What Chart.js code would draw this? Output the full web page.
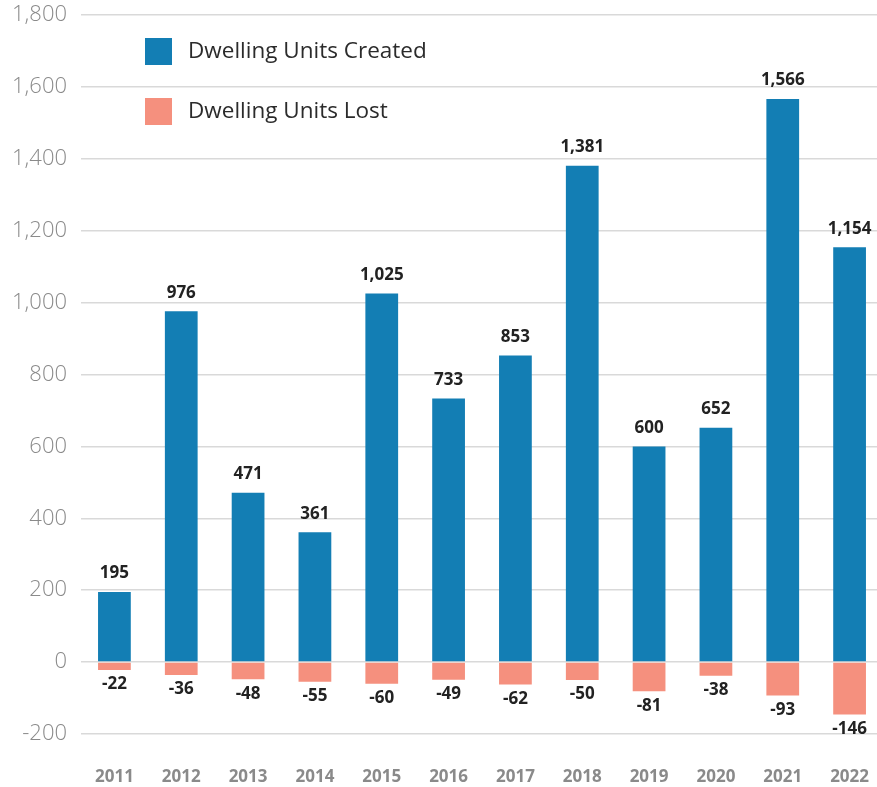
<!DOCTYPE html>
<html>
<head>
<meta charset="utf-8">
<script src="https://cdn.jsdelivr.net/npm/chart.js@4/dist/chart.umd.min.js"></script>
<style>
  html, body { margin: 0; padding: 0; background: #fff; overflow: hidden; }
  #wrap { width: 883px; height: 787px; }
</style>
</head>
<body>
<div id="wrap"><canvas id="units" width="883" height="787"></canvas></div>
<script>
const years = ['2011', '2012', '2013', '2014', '2015', '2016', '2017', '2018', '2019', '2020', '2021', '2022'];
const unitsCreated = [195, 976, 471, 361, 1025, 733, 853, 1381, 600, 652, 1566, 1154];
const unitsLost = [-22, -36, -48, -55, -60, -49, -62, -50, -81, -38, -93, -146];
const yTicks = [-200, 0, 200, 400, 600, 800, 1000, 1200, 1400, 1600, 1800];

const FONT = '"Open Sans", "Noto Sans", sans-serif';

// value labels above the created bars, below the lost bars
const valueLabels = {
  id: 'valueLabels',
  afterDatasetsDraw(chart) {
    const ctx = chart.ctx;
    ctx.save();
    ctx.font = 'bold 17px ' + FONT;
    ctx.fillStyle = '#222';
    ctx.textAlign = 'center';
    chart.data.datasets.forEach((ds, i) => {
      chart.getDatasetMeta(i).data.forEach((bar, j) => {
        const v = ds.data[j];
        const txt = v.toLocaleString('en-US');
        if (v >= 0) {
          ctx.textBaseline = 'bottom';
          ctx.fillText(txt, bar.x, bar.y - 10);
        } else {
          ctx.textBaseline = 'top';
          ctx.fillText(txt, bar.x, bar.y + 6);
        }
      });
    });
    ctx.restore();
  }
};

// legend sits inside the plot, top left
const insideLegend = {
  id: 'insideLegend',
  afterDraw(chart) {
    const ctx = chart.ctx;
    ctx.save();
    ctx.font = '22.5px ' + FONT;
    ctx.textBaseline = 'middle';
    ctx.textAlign = 'left';
    chart.data.datasets.forEach((ds, i) => {
      const y = 38 + i * 60;
      ctx.fillStyle = ds.backgroundColor;
      ctx.fillRect(145, y, 27, 27);
      ctx.fillStyle = '#2b2b2b';
      ctx.fillText(ds.label, 188, y + 14);
    });
    ctx.restore();
  }
};

new Chart(document.getElementById('units'), {
  type: 'bar',
  data: {
    labels: years,
    datasets: [
      { label: 'Dwelling Units Created', data: unitsCreated, backgroundColor: '#137eb4' },
      { label: 'Dwelling Units Lost', data: unitsLost, backgroundColor: '#f5907e' }
    ]
  },
  options: {
    responsive: false,
    animation: false,
    layout: { padding: { top: 15, right: 0, bottom: 0, left: 0 } },
    datasets: { bar: { barPercentage: 0.49, categoryPercentage: 1 } },
    plugins: {
      legend: { display: false },
      tooltip: { enabled: false }
    },
    scales: {
      x: {
        stacked: true,
        grid: { display: false, drawTicks: false },
        border: { display: false },
        ticks: { color: '#8a8a8a', font: { family: FONT, size: 17, weight: 'bold' }, padding: 33 },
        afterFit(scale) {
          scale.height = 53;
          scale.paddingLeft = 0;
          scale.paddingRight = 0;
        }
      },
      y: {
        stacked: true,
        min: -200,
        max: 1800,
        afterBuildTicks(scale) { scale.ticks = yTicks.map(v => ({ value: v })); },
        grid: { color: '#d9d9d9', lineWidth: 1.5, drawTicks: false },
        border: { display: false },
        ticks: {
          color: '#8a8a8a',
          font: { family: FONT, size: 22, weight: '300' },
          padding: 14,
          callback: v => v.toLocaleString('en-US')
        },
        afterFit(scale) {
          scale.width = 81;
          scale.paddingTop = 0;
          scale.paddingBottom = 0;
        }
      }
    }
  },
  plugins: [valueLabels, insideLegend]
});
</script>
</body>
</html>
